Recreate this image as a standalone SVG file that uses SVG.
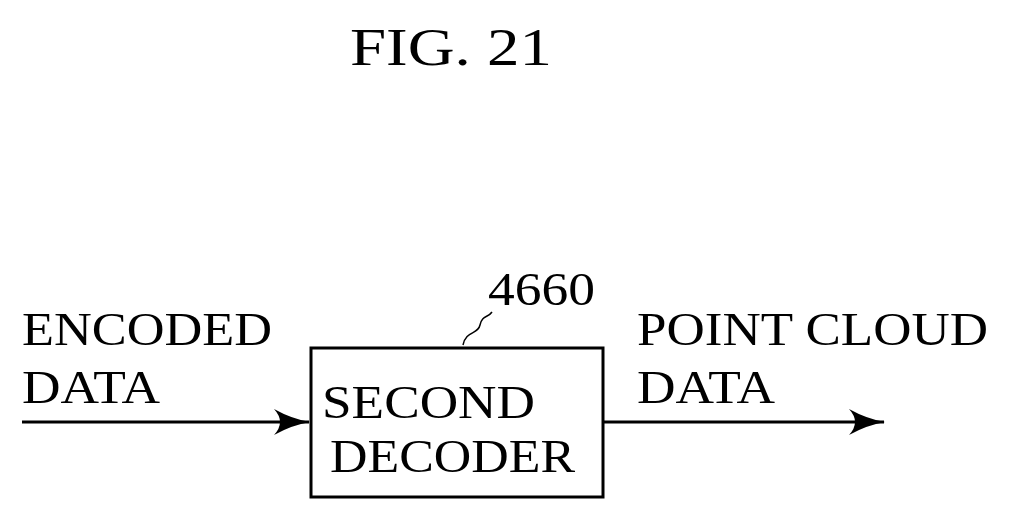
<svg xmlns="http://www.w3.org/2000/svg" width="1013" height="521" viewBox="0 0 1013 521">
<style>
text{font-family:"Liberation Serif","DejaVu Serif",serif;fill:#000}
.l{font-size:46px}
.ln{stroke:#000;stroke-width:3;fill:none}
</style>
<defs><marker id="a" markerWidth="36" markerHeight="26" refX="35" refY="13" orient="auto" markerUnits="userSpaceOnUse"><path d="M0,0 Q18,10 36,13 Q18,16 0,26 Q12,13 0,0 Z" fill="#000"/></marker></defs>
<rect width="1013" height="521" fill="#fff"/>
<text x="350" y="65" font-size="52" textLength="202" lengthAdjust="spacingAndGlyphs">FIG. 21</text>
<g id="input"><text class="l" x="22" y="345" textLength="250" lengthAdjust="spacingAndGlyphs">ENCODED</text><text class="l" x="22" y="403" textLength="138" lengthAdjust="spacingAndGlyphs">DATA</text></g>
<g id="decoder"><rect class="ln" x="311" y="348" width="292" height="149"/><text class="l" x="322" y="418" textLength="213" lengthAdjust="spacingAndGlyphs">SECOND</text><text class="l" x="330" y="472" textLength="245" lengthAdjust="spacingAndGlyphs">DECODER</text><text class="l" x="488" y="305" textLength="107" lengthAdjust="spacingAndGlyphs">4660</text></g>
<g id="output"><text class="l" x="637" y="345" textLength="351" lengthAdjust="spacingAndGlyphs">POINT CLOUD</text><text class="l" x="637" y="403" textLength="138" lengthAdjust="spacingAndGlyphs">DATA</text></g>
<g id="connectors"><path class="ln" d="M22,422 H309" marker-end="url(#a)"/><path class="ln" d="M603,422 H884" marker-end="url(#a)"/><path d="M463,345 C466,330 478,335 480,325 C482,315 488,318 492,312" stroke="#000" stroke-width="1.5" fill="none"/></g>
</svg>
